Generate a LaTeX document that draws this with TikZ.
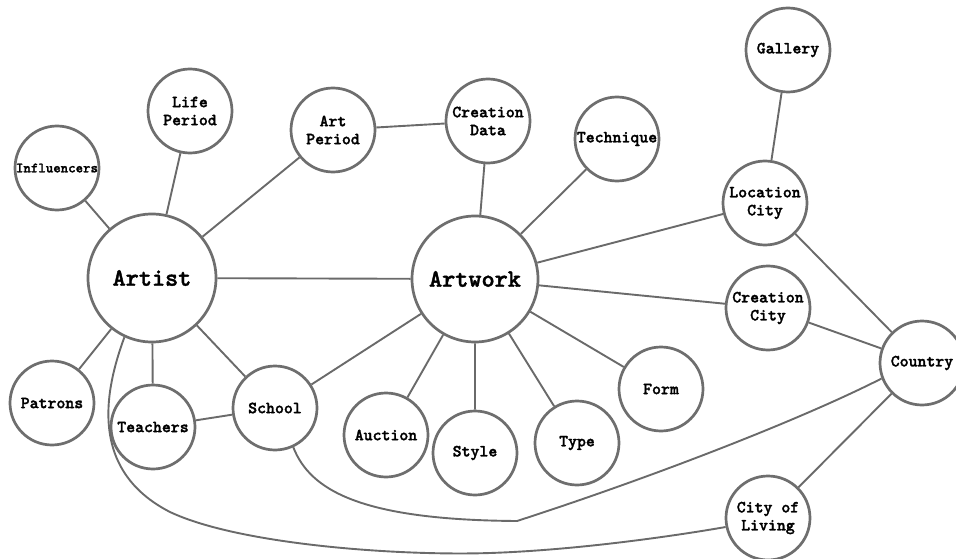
\documentclass[tikz,border=0pt]{standalone}
\usepackage{fontspec}
\newfontfamily\labelfont{lmmonolt10-bold.otf}[FakeBold=1.6]
\begin{document}
\begin{tikzpicture}[x=1pt,y=-1pt,
  bubble/.style={circle, draw=ringgray, line width=2.7pt, fill=white,
    minimum size=84pt, inner sep=0pt, align=center,
    font=\labelfont\fontsize{17}{18}\selectfont},
  hub/.style={bubble, minimum size=128pt,
    font=\labelfont\fontsize{25}{28}\selectfont},
  link/.style={draw=linkgray, line width=1.9pt}]
\definecolor{ringgray}{HTML}{6E6E6E}
\definecolor{linkgray}{HTML}{6A6A6A}
\useasboundingbox (0,0) rectangle (956,559);

% central hubs
\node[hub] (artist) at (152,278) {Artist};
\node[hub, minimum size=126pt] (artwork) at (475,279) {Artwork};

% artist satellites
\node[bubble, font=\labelfont\fontsize{14.2}{17}\selectfont] (influencers) at (57,168) {Influencers};
\node[bubble] (life) at (190,111) {Life\\Period};
\node[bubble] (artperiod) at (333,130) {Art\\Period};
\node[bubble] (patrons) at (52,403) {Patrons};
\node[bubble] (teachers) at (153,427) {Teachers};
\node[bubble] (school) at (275,408) {School};

% artwork satellites
\node[bubble] (creationdata) at (488,121) {Creation\\Data};
\node[bubble] (technique) at (617,139) {Technique};
\node[bubble] (auction) at (386,435) {Auction};
\node[bubble] (style) at (475,453) {Style};
\node[bubble] (type) at (577,443) {Type};
\node[bubble] (form) at (661,389) {Form};

% places
\node[bubble] (gallery) at (788,50) {Gallery};
\node[bubble] (loccity) at (765,203) {Location\\City};
\node[bubble] (crcity) at (768,308) {Creation\\City};
\node[bubble] (country) at (922,363) {Country};
\node[bubble] (living) at (768,518) {City of\\Living};

% straight connectors
\path[link]
  (influencers) -- (artist)
  (life) -- (artist)
  (artperiod) -- (artist)
  (artperiod) -- (creationdata)
  (creationdata) -- (artwork)
  (technique) -- (artwork)
  (artist) -- (artwork)
  (artwork) -- (loccity)
  (artwork) -- (crcity)
  (gallery) -- (loccity)
  (loccity) -- (country)
  (crcity) -- (country)
  (living) -- (country)
  (artist) -- (patrons)
  (artist) -- (teachers)
  (artist) -- (school)
  (teachers) -- (school)
  (school) -- (artwork)
  (artwork) -- (auction)
  (artwork) -- (style)
  (artwork) -- (type)
  (artwork) -- (form);

% curved connectors
\draw[link] (artist.245) .. controls (105,390) and (88,470) .. (170,512)
  .. controls (240,545) and (400,556) .. (490,553)
  .. controls (580,550) and (680,535) .. (living.192);
\draw[link] (school.295) .. controls (310,490) and (360,520) .. (517,521)
  .. controls (650,478) and (800,420) .. (country.201);
\end{tikzpicture}
\end{document}
